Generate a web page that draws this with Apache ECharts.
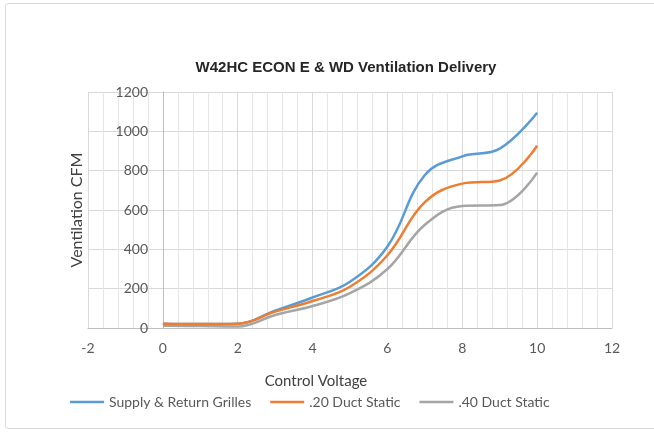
<!DOCTYPE html>
<html>
<head>
<meta charset="utf-8">
<script src="https://cdn.jsdelivr.net/npm/echarts@6/dist/echarts.min.js"></script>
<style>
html,body{margin:0;padding:0;background:#fff;}
#chart{width:654px;height:432px;}
</style>
</head>
<body>
<div id="chart"></div>
<script>
// Control voltage (x) values
var voltage = [0, 1, 2, 3, 4, 5, 6, 7, 8, 9, 10];
// Ventilation CFM per series
var supplyReturn = [22, 20, 22, 88, 155, 235, 414, 778, 873, 912, 1095];
var duct20 = [22, 20, 22, 83, 137, 210, 370, 640, 734, 750, 927];
var duct40 = [12, 10, 8, 66, 112, 177, 300, 525, 620, 625, 790];
var seriesNames = ['Supply & Return Grilles', '.20 Duct Static', '.40 Duct Static'];
var xTicks = [-2, 0, 2, 4, 6, 8, 10, 12];
var yTicks = [0, 200, 400, 600, 800, 1000, 1200];

function pairs(ys) { return voltage.map(function (v, i) { return [v, ys[i]]; }); }

var chart = echarts.init(document.getElementById('chart'));
var labelFont = 'Lato, "Liberation Sans", sans-serif';
chart.setOption({
  animation: false,
  backgroundColor: '#ffffff',
  title: {
    text: 'W42HC ECON E & WD Ventilation Delivery',
    left: 341, top: 55, textAlign: 'center',
    textStyle: { fontFamily: '"Liberation Sans", Arial, sans-serif', fontWeight: 'bold', fontSize: 15, color: '#262626' }
  },
  legend: {
    left: 70, top: 395, padding: 0,
    icon: 'rect',
    itemWidth: 34, itemHeight: 2.5, itemGap: 19,
    textStyle: { fontFamily: labelFont, fontSize: 14, color: '#595959' },
    data: seriesNames
  },
  grid: { left: 88, right: 42, top: 92, bottom: 104, containLabel: false, outerBoundsMode: 'none' },
  xAxis: {
    type: 'value', min: xTicks[0], max: xTicks[xTicks.length - 1], interval: 2,
    axisLine: { show: true, lineStyle: { color: '#bfbfbf', width: 1 } },
    axisTick: { show: false },
    axisLabel: { fontFamily: labelFont, fontSize: 14, color: '#595959', margin: 13 },
    splitLine: { show: true, lineStyle: { color: '#d9d9d9', width: 1 } },
    minorTick: { show: false, splitNumber: 5 },
    minorSplitLine: { show: true, lineStyle: { color: '#e6e6e6', width: 1 } }
  },
  yAxis: {
    type: 'value', min: yTicks[0], max: yTicks[yTicks.length - 1], interval: 200,
    axisLine: { show: true, onZero: true, lineStyle: { color: '#bfbfbf', width: 1 } },
    axisTick: { show: false },
    axisLabel: { fontFamily: labelFont, fontSize: 14, color: '#595959', margin: -60, align: 'right',
      formatter: function (v) { return String(v); } },
    splitLine: { show: true, lineStyle: { color: '#d9d9d9', width: 1 } }
  },
  graphic: [
    { type: 'rect', silent: true, z: -10, shape: { x: 5.5, y: 3.5, width: 670, height: 425, r: 3 },
      style: { fill: 'none', stroke: '#d9d9d9', lineWidth: 1 } },
    { type: 'text', x: 316, y: 374, silent: true,
      style: { text: 'Control Voltage', align: 'center', fontFamily: labelFont, fontSize: 15, fill: '#404040' } },
    { type: 'text', x: 77, y: 210, rotation: Math.PI / 2, silent: true,
      style: { text: 'Ventilation CFM', align: 'center', verticalAlign: 'middle', fontFamily: labelFont, fontSize: 16, fill: '#404040' } }
  ],
  series: [
    { name: seriesNames[0], type: 'line', data: pairs(supplyReturn), smooth: 0.4, symbol: 'none', showSymbol: false,
      lineStyle: { color: '#5B9BD5', width: 2.5 }, itemStyle: { color: '#5B9BD5' }, z: 3 },
    { name: seriesNames[1], type: 'line', data: pairs(duct20), smooth: 0.4, symbol: 'none', showSymbol: false,
      lineStyle: { color: '#ED7D31', width: 2.5 }, itemStyle: { color: '#ED7D31' }, z: 4 },
    { name: seriesNames[2], type: 'line', data: pairs(duct40), smooth: 0.4, symbol: 'none', showSymbol: false,
      lineStyle: { color: '#A5A5A5', width: 2.5 }, itemStyle: { color: '#A5A5A5' }, z: 2 }
  ]
});
</script>
</body>
</html>
